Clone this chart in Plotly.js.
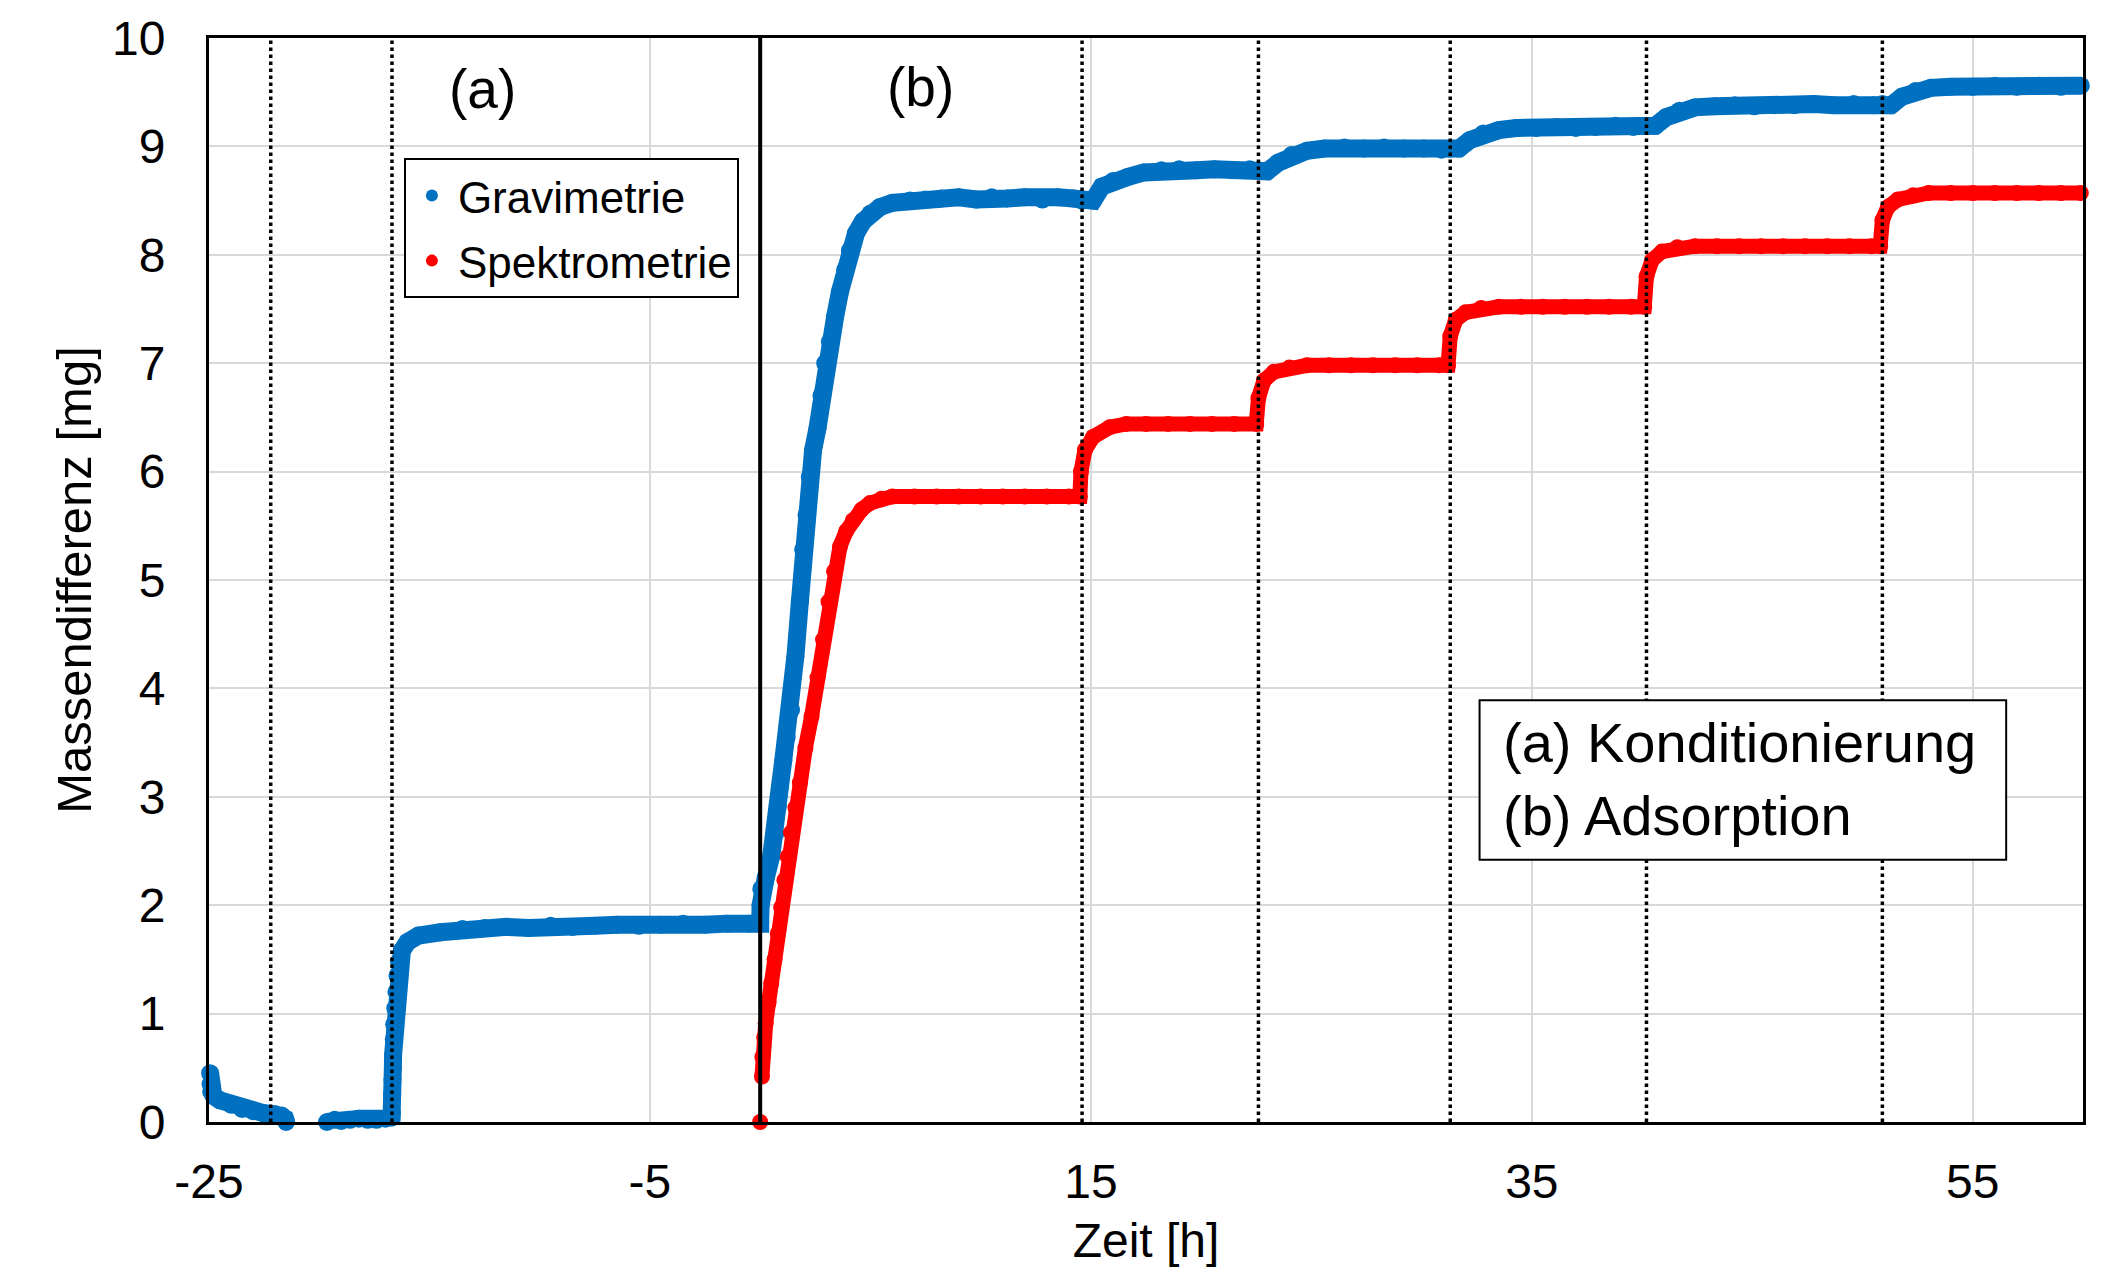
<!DOCTYPE html>
<html>
<head>
<meta charset="utf-8">
<script src="https://cdn.plot.ly/plotly-3.0.1.min.js"></script>
<style>html,body{margin:0;padding:0;background:#fff;}#chart{width:2112px;height:1267px;}</style>
</head>
<body>
<div id="chart"></div>
<script>
// ---- data ----
const seriesNames = ["Gravimetrie", "Spektrometrie"];

const gravTime = [
  -24.95, -24.93, -24.9, -24.8, -24.5, -24.0, -23.5, -23.0, -22.5, -22.0, -21.7, -21.55, -21.5,
  null,
  -19.65, -19.3, -19.0, -18.6, -18.2, -17.8, -17.4, -17.0, -16.72,
  -16.7, -16.7, -16.68, -16.66, -16.65, -16.62, -16.6, -16.55, -16.5, -16.45, -16.38, -16.25, -16.0, -15.5, -14.5,
  -13.5, -12.5, -11.5, -10.5, -9.5, -8.5, -7.5, -6.5, -5.5, -4.5, -3.5, -2.5, -1.5, -0.5, -0.1,
  0.0, 0.0, 0.02, 0.05, 0.25, 0.5, 0.68, 0.8, 0.9, 1.05, 1.2, 1.4, 1.6, 1.8, 1.95, 2.1, 2.25, 2.4, 2.6, 2.78,
  2.95, 3.16, 3.4, 3.62, 3.85, 4.07, 4.35, 4.67, 5.0, 5.43, 6.0, 6.8,
  7.5, 8.2, 9.0, 9.8, 10.5, 11.2, 12.0, 12.8, 13.5, 14.2, 14.6,
  15.1, 15.5, 16.0, 16.7, 17.4, 18.2, 19.0, 19.8, 20.6, 21.4, 22.2, 22.6,
  23.0, 23.5, 24.1, 24.8, 25.6, 26.5, 27.4, 28.3, 29.2, 30.1, 30.9, 31.3,
  31.7, 32.2, 32.8, 33.5, 34.3, 35.2, 36.1, 37.0, 37.9, 38.8, 39.6, 40.2,
  40.6, 41.1, 41.7, 42.4, 43.3, 44.2, 45.1, 46.0, 46.9, 47.8, 48.7, 49.6, 50.5, 50.9,
  51.3, 51.8, 52.4, 53.1, 54.0, 55.0, 56.0, 57.0, 58.0, 59.0, 59.9
];
const gravMass = [
  0.45, 0.35, 0.28, 0.24, 0.20, 0.16, 0.12, 0.10, 0.08, 0.07, 0.06, 0.03, 0.0,
  null,
  0.00, 0.02, 0.01, 0.02, 0.03, 0.02, 0.02, 0.03, 0.04,
  0.08, 0.26, 0.39, 0.50, 0.62, 0.76, 0.90, 1.05, 1.20, 1.35, 1.48, 1.58, 1.66, 1.72, 1.75, 1.78,
  1.79, 1.80, 1.79, 1.81, 1.80, 1.81, 1.82, 1.81, 1.82, 1.83, 1.82, 1.83, 1.83, 1.84, 1.83,
  1.85, 2.00, 2.15, 2.25, 2.45, 2.66, 2.91, 3.10, 3.34, 3.55, 3.80, 4.30, 4.80, 5.28, 5.60, 5.95, 6.20, 6.40, 6.70, 7.00,
  7.20, 7.43, 7.66, 7.86, 8.04, 8.20, 8.31, 8.38, 8.44, 8.48, 8.50, 8.51,
  8.52, 8.53, 8.51, 8.53, 8.52, 8.53, 8.51, 8.53, 8.52, 8.50, 8.50,
  8.63, 8.68, 8.72, 8.76, 8.78, 8.79, 8.78, 8.79, 8.78, 8.79, 8.78, 8.77,
  8.85, 8.92, 8.96, 8.98, 8.99, 8.98, 8.99, 8.98, 8.98, 8.97, 8.98, 8.98,
  9.06, 9.12, 9.15, 9.17, 9.17, 9.18, 9.17, 9.18, 9.19, 9.18, 9.19, 9.19,
  9.27, 9.33, 9.36, 9.37, 9.38, 9.37, 9.38, 9.38, 9.39, 9.38, 9.39, 9.38, 9.39, 9.38,
  9.46, 9.51, 9.54, 9.55, 9.55, 9.56, 9.55, 9.56, 9.55, 9.56, 9.56
];

const specTime = [
  0.0, null,
  0.08, 0.1, 0.18, 0.25, 0.38, 0.5, 0.65, 0.8, 0.95, 1.1, 1.25, 1.4, 1.6, 1.8, 2.05, 2.33, 2.6, 2.85, 3.1, 3.35, 3.62,
  3.9, 4.2, 4.6, 4.98, 5.5, 6.0,
  7.0, 8.0, 9.0, 10.0, 11.0, 12.0, 13.0, 14.0, 14.5,
  14.55, 14.73, 15.1, 15.86, 16.6, 17.5, 18.5, 19.5, 20.5, 21.5, 22.5,
  22.6, 22.85, 23.3, 24.0, 24.8, 25.8, 26.8, 27.8, 28.8, 29.8, 30.8, 31.2,
  31.3, 31.55, 32.0, 32.7, 33.5, 34.5, 35.5, 36.5, 37.5, 38.5, 39.5, 40.1,
  40.2, 40.45, 40.9, 41.6, 42.4, 43.4, 44.4, 45.4, 46.4, 47.4, 48.4, 49.4, 50.4, 50.8,
  50.9, 51.15, 51.6, 52.3, 53.0, 54.0, 55.0, 56.0, 57.0, 58.0, 59.0, 59.9
];
const specMass = [
  0.0, null,
  0.42, 0.60, 0.78, 0.91, 1.10, 1.28, 1.50, 1.74, 1.98, 2.23, 2.45, 2.67, 2.90, 3.13, 3.45, 3.74, 4.10, 4.45, 4.80, 5.08, 5.31,
  5.45, 5.55, 5.65, 5.71, 5.75, 5.77,
  5.77, 5.77, 5.77, 5.77, 5.77, 5.77, 5.77, 5.77, 5.77,
  6.00, 6.20, 6.32, 6.41, 6.44, 6.44, 6.44, 6.44, 6.44, 6.44, 6.44,
  6.68, 6.84, 6.92, 6.96, 6.98, 6.98, 6.98, 6.98, 6.98, 6.98, 6.98, 6.98,
  7.25, 7.40, 7.47, 7.51, 7.52, 7.52, 7.52, 7.52, 7.52, 7.52, 7.52, 7.52,
  7.80, 7.95, 8.03, 8.07, 8.08, 8.08, 8.08, 8.08, 8.08, 8.08, 8.08, 8.08, 8.08, 8.08,
  8.32, 8.44, 8.51, 8.55, 8.57, 8.57, 8.57, 8.57, 8.57, 8.57, 8.57, 8.57
];

// times of the stage changes (dotted) and of the phase change (solid)
const stageChangeTimes = [-22.2, -16.7, 14.6, 22.6, 31.3, 40.2, 50.9];
const phaseChangeTime = [0];

const xTickVals = [-25, -5, 15, 35, 55];
const xTickText = ["-25", "-5", "15", "35", "55"];
const yTickVals = [0, 1, 2, 3, 4, 5, 6, 7, 8, 9, 10];
const yTickText = ["0", "1", "2", "3", "4", "5", "6", "7", "8", "9", "10"];
const phaseLabels = ["(a)", "(b)"];
const phaseLabelX = [-12.6, 7.25];
const phaseLabelY = [9.53, 9.55];
const phaseDescription = ["(a) Konditionierung", "(b) Adsorption"];

// ---- styles ----
const FONT = "Liberation Sans, Arial, Helvetica, sans-serif";
const colors = ["#0070C0", "#FF0000"];
const bandWidth = [18, 15];
const dotSize = [18, 16];

function seriesTraces(i, xs, ys, group) {
  return [
    { type: "scatter", mode: "lines", x: xs, y: ys, name: seriesNames[i], legendgroup: group,
      showlegend: false, cliponaxis: false, hoverinfo: "skip",
      line: { color: colors[i], width: bandWidth[i] } },
    { type: "scatter", mode: "markers", x: xs, y: ys, name: seriesNames[i], legendgroup: group,
      showlegend: true, cliponaxis: false,
      marker: { color: colors[i], size: dotSize[i] } }
  ];
}

const data = [
  ...seriesTraces(0, gravTime, gravMass, "g1"),
  ...seriesTraces(1, specTime, specMass, "g2")
];

const shapes = [];
stageChangeTimes.forEach(t => shapes.push({
  type: "line", xref: "x", yref: "y", x0: t, x1: t, y0: 0, y1: 10,
  line: { color: "#000", width: 3.5, dash: "dot" }, layer: "above"
}));
phaseChangeTime.forEach(t => shapes.push({
  type: "line", xref: "x", yref: "y", x0: t, x1: t, y0: 0, y1: 10,
  line: { color: "#000", width: 4 }, layer: "above"
}));
// frame of the text box
shapes.push({
  type: "rect", xref: "paper", yref: "paper", x0: 0.678, x1: 0.959, y0: 0.242, y1: 0.389,
  fillcolor: "#fff", line: { color: "#000", width: 2 }, layer: "above"
});

const annotations = phaseLabels.map((t, i) => ({
  text: t, x: phaseLabelX[i], y: phaseLabelY[i], xref: "x", yref: "y",
  showarrow: false, font: { family: FONT, size: 55, color: "#000" }
}));
annotations.push({
  text: phaseDescription.join("<br>"), xref: "paper", yref: "paper",
  x: 0.6895, y: 0.316, xanchor: "left", yanchor: "middle", align: "left",
  showarrow: false, font: { family: FONT, size: 56, color: "#000" }
});

const layout = {
  width: 2112, height: 1267,
  margin: { l: 209, r: 29, t: 38, b: 145 },
  paper_bgcolor: "#fff", plot_bgcolor: "#fff",
  font: { family: FONT, color: "#000" },
  showlegend: true,
  legend: {
    x: 0.104, y: 0.889, xanchor: "left", yanchor: "top",
    bgcolor: "#fff", bordercolor: "#000", borderwidth: 2,
    font: { family: FONT, size: 44, color: "#000" },
    traceorder: "grouped", tracegroupgap: 5,
    itemwidth: 42, itemsizing: "constant",
    entrywidth: 284, entrywidthmode: "pixels"
  },
  xaxis: {
    range: [-25, 60], tickvals: xTickVals, ticktext: xTickText, ticks: "", ticklabelstandoff: 15,
    showgrid: true, gridcolor: "#d9d9d9", gridwidth: 2, zeroline: false,
    showline: true, mirror: true, linecolor: "#000", linewidth: 3,
    tickfont: { family: FONT, size: 48, color: "#000" },
    title: { text: "Zeit [h]", font: { family: FONT, size: 48, color: "#000" }, standoff: 55 },
    automargin: false
  },
  yaxis: {
    range: [0, 10], tickvals: yTickVals, ticktext: yTickText, ticks: "", ticklabelstandoff: 31,
    showgrid: true, gridcolor: "#d9d9d9", gridwidth: 2, zeroline: false,
    showline: true, mirror: true, linecolor: "#000", linewidth: 3,
    tickfont: { family: FONT, size: 48, color: "#000" },
    title: { text: "Massendifferenz [mg]", font: { family: FONT, size: 49, color: "#000" }, standoff: 5 },
    automargin: false
  },
  shapes: shapes,
  annotations: annotations
};

Plotly.newPlot("chart", data, layout, { displayModeBar: false, staticPlot: true });
</script>
</body>
</html>
